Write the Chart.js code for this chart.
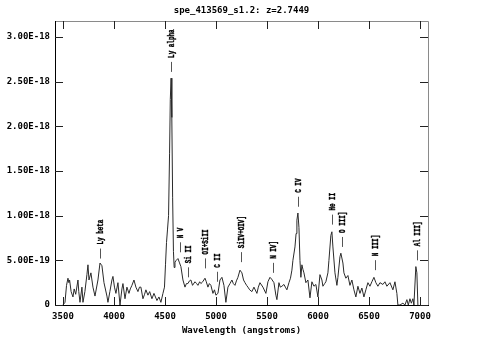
<!DOCTYPE html>
<html><head><meta charset="utf-8">
<script src="https://cdn.jsdelivr.net/npm/chart.js@4/dist/chart.umd.min.js"></script>
<style>html,body{margin:0;padding:0;background:#fff;}canvas{display:block;}</style>
</head><body>
<canvas id="c" width="483" height="358"></canvas>
<script>
const FLUX_UNIT = 1e-18;
const titleText = 'spe_413569_s1.2: z=2.7449';
const xTitleText = 'Wavelength (angstroms)';
const xTickValues = [3500, 4000, 4500, 5000, 5500, 6000, 6500, 7000];
const yTickValues = [0, 0.5, 1, 1.5, 2, 2.5, 3];
const wavelengths = [3500,3520,3535,3549,3558,3565,3580,3598,3610,3625,3647,3655,3667,3686,3696,3715,3735,3745,3755,3774,3794,3814,3843,3863,3882,3902,3931,3941,3960,3980,3990,4005,4019,4039,4059,4078,4088,4108,4127,4147,4160,4176,4196,4215,4235,4250,4264,4284,4300,4313,4333,4350,4372,4392,4421,4441,4460,4480,4495,4505,4515,4525,4535,4545,4552,4560,4567,4575,4583,4590,4598,4610,4627,4640,4656,4676,4696,4710,4725,4740,4754,4770,4794,4810,4823,4840,4852,4870,4892,4905,4921,4935,4950,4970,4985,4999,5019,5039,5058,5078,5097,5117,5137,5156,5170,5186,5200,5215,5235,5254,5270,5284,5300,5313,5330,5352,5372,5401,5415,5431,5460,5489,5509,5529,5545,5568,5587,5597,5617,5630,5646,5666,5680,5695,5715,5730,5744,5754,5774,5785,5793,5803,5813,5823,5832,5842,5852,5862,5881,5901,5921,5940,5960,5979,5999,6019,6038,6048,6065,6077,6097,6107,6126,6136,6146,6166,6185,6195,6215,6224,6244,6254,6273,6293,6313,6332,6352,6371,6391,6411,6430,6450,6469,6489,6509,6528,6548,6567,6587,6607,6636,6656,6675,6705,6734,6754,6773,6783,6803,6832,6852,6871,6885,6901,6915,6930,6940,6959,6969,6979];
const fluxes = [0.00,0.03,0.22,0.30,0.25,0.28,0.15,0.09,0.18,0.12,0.28,0.15,0.03,0.20,0.03,0.15,0.34,0.45,0.28,0.36,0.20,0.10,0.28,0.47,0.44,0.25,0.10,0.03,0.15,0.28,0.32,0.20,0.13,0.25,0.00,0.18,0.24,0.07,0.20,0.13,0.18,0.22,0.28,0.20,0.15,0.20,0.20,0.07,0.12,0.17,0.11,0.15,0.07,0.13,0.05,0.09,0.03,0.13,0.20,0.45,0.70,0.85,1.00,1.70,2.30,2.54,2.10,1.20,0.60,0.42,0.48,0.50,0.52,0.48,0.43,0.28,0.20,0.24,0.24,0.27,0.28,0.22,0.26,0.24,0.22,0.26,0.24,0.26,0.30,0.26,0.20,0.24,0.22,0.13,0.17,0.11,0.13,0.28,0.31,0.22,0.03,0.20,0.24,0.28,0.24,0.22,0.27,0.31,0.39,0.36,0.28,0.25,0.22,0.20,0.17,0.15,0.20,0.13,0.20,0.25,0.20,0.13,0.26,0.31,0.29,0.25,0.11,0.06,0.25,0.20,0.21,0.23,0.20,0.17,0.25,0.30,0.39,0.50,0.65,0.80,0.95,1.03,0.87,0.50,0.31,0.45,0.40,0.36,0.25,0.28,0.08,0.26,0.21,0.23,0.09,0.34,0.28,0.21,0.24,0.26,0.36,0.50,0.78,0.82,0.65,0.36,0.22,0.31,0.54,0.58,0.47,0.36,0.30,0.33,0.22,0.28,0.17,0.09,0.21,0.13,0.19,0.09,0.17,0.25,0.21,0.26,0.31,0.25,0.21,0.25,0.23,0.26,0.21,0.25,0.17,0.26,0.13,0.00,0.00,0.02,0.00,0.06,0.00,0.07,0.02,0.07,0.00,0.43,0.36,0.00];
const lineNames = ['Ly beta','Ly alpha','N V','Si II','OI+SiII','C II','SiIV+OIV]','N IV]','C IV','He II','O III]','N III]','Al III]'];
const lineWaves = [3862,4556,4645,4725,4893,5005,5243,5560,5801,6138,6232,6556,6966];
const lineLevels = [0.52,2.61,0.59,0.31,0.41,0.26,0.48,0.36,1.10,0.90,0.65,0.39,0.50];

const MONO = '"DejaVu Sans Mono", "Liberation Mono", monospace';
const LABEL_FONT = 'bold 9px "Liberation Mono", monospace';

const decorPlugin = {
  id: 'decor',
  afterDatasetsDraw(chart) {
    const {ctx, chartArea: a, scales: {x, y}} = chart;
    ctx.save();
    ctx.lineWidth = 1;
    ctx.strokeStyle = '#8a8a8a';
    ctx.beginPath();
    ctx.moveTo(a.left, a.top + 0.5); ctx.lineTo(a.right + 0.5, a.top + 0.5);
    ctx.lineTo(a.right + 0.5, a.bottom);
    ctx.stroke();
    ctx.strokeStyle = '#000';
    ctx.beginPath();
    ctx.moveTo(a.left + 0.5, a.top); ctx.lineTo(a.left + 0.5, a.bottom + 0.5);
    ctx.lineTo(a.right + 1, a.bottom + 0.5);
    ctx.stroke();
    ctx.strokeStyle = '#222';
    ctx.beginPath();
    xTickValues.forEach(v => {
      const px = Math.round(x.getPixelForValue(v)) + 0.5;
      ctx.moveTo(px, a.bottom); ctx.lineTo(px, a.bottom - 8);
      ctx.moveTo(px, a.top); ctx.lineTo(px, a.top + 8);
    });
    yTickValues.forEach(v => {
      const py = Math.round(y.getPixelForValue(v)) + 0.5;
      ctx.moveTo(a.left, py); ctx.lineTo(a.left + 8, py);
      ctx.moveTo(a.right, py); ctx.lineTo(a.right - 8, py);
    });
    ctx.stroke();
    ctx.fillStyle = '#000';
    lineNames.forEach((name, i) => {
      const px = Math.round(x.getPixelForValue(lineWaves[i])) + 0.5;
      const pb = y.getPixelForValue(lineLevels[i]);
      const pt = pb - 10;
      ctx.strokeStyle = '#555';
      ctx.lineWidth = 1;
      ctx.beginPath(); ctx.moveTo(px, pb); ctx.lineTo(px, pt); ctx.stroke();
      ctx.save();
      ctx.translate(px, pt - 4);
      ctx.rotate(-Math.PI / 2);
      ctx.scale(0.66, 1);
      ctx.font = LABEL_FONT;
      ctx.textAlign = 'left';
      ctx.textBaseline = 'middle';
      ctx.strokeStyle = '#000';
      ctx.lineWidth = 0.4;
      ctx.fillText(name, 0, 0);
      ctx.strokeText(name, 0, 0);
      ctx.restore();
    });
    ctx.font = 'bold 9px ' + MONO;
    ctx.textAlign = 'center';
    ctx.textBaseline = 'middle';
    ctx.fillText(titleText, (a.left + a.right) / 2, 11);
    ctx.fillText(xTitleText, (a.left + a.right) / 2, 331);
    ctx.restore();
  }
};

new Chart(document.getElementById('c'), {
  type: 'line',
  data: {
    datasets: [{
      data: wavelengths.map((w, i) => ({x: w, y: fluxes[i]})),
      borderColor: '#2a2a2a',
      borderWidth: 1,
      pointRadius: 0,
      tension: 0,
      fill: false
    }]
  },
  options: {
    responsive: false,
    animation: false,
    devicePixelRatio: 1,
    layout: {padding: {top: 21, right: 55, left: 0, bottom: 0}},
    plugins: {legend: {display: false}, title: {display: false}, tooltip: {enabled: false}},
    scales: {
      x: {
        type: 'linear', min: 3422, max: 7078,
        afterFit(s) { s.height = 53; },
        afterBuildTicks(s) { s.ticks = xTickValues.map(v => ({value: v})); },
        grid: {display: false, drawTicks: false},
        border: {display: false},
        ticks: {padding: 6, color: '#000', font: {family: MONO, size: 9, weight: 'bold'}, maxRotation: 0, autoSkip: false,
          callback: v => String(v)}
      },
      y: {
        type: 'linear', min: 0, max: 3.18,
        afterFit(s) { s.width = 55; },
        afterBuildTicks(s) { s.ticks = yTickValues.map(v => ({value: v})); },
        grid: {display: false, drawTicks: false},
        border: {display: false},
        ticks: {padding: 5, color: '#000', font: {family: MONO, size: 9, weight: 'bold'}, autoSkip: false,
          callback: v => v === 0 ? '0' : (v * FLUX_UNIT).toExponential(2).toUpperCase()}
      }
    }
  },
  plugins: [decorPlugin]
});
</script>
</body></html>
